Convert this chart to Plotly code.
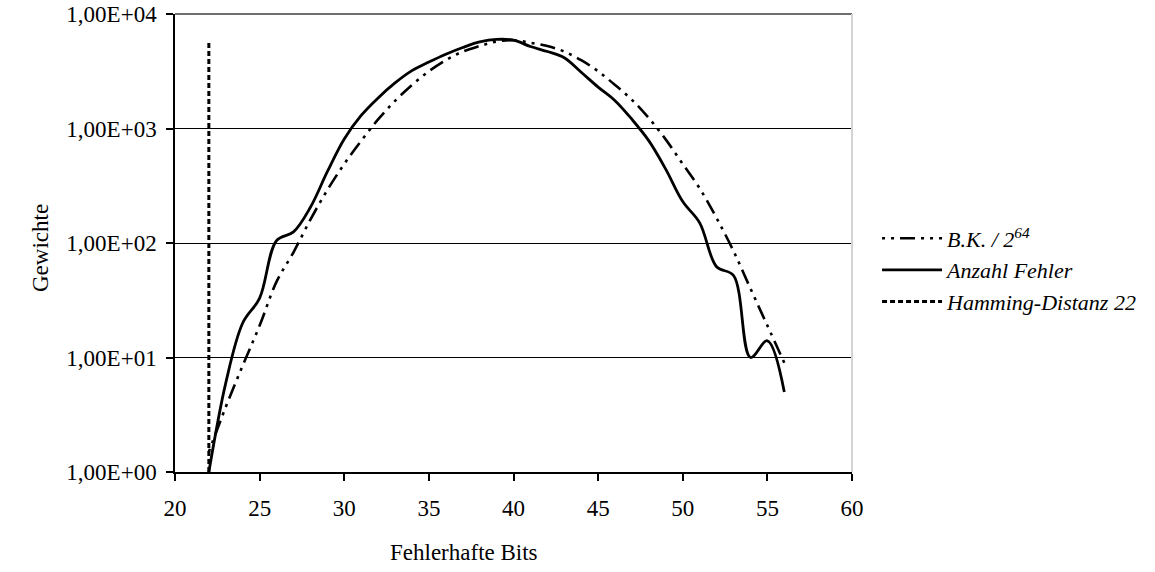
import plotly.graph_objects as go

bits = list(range(22, 57))
bk_values = [1.5, 3.7, 8.5, 19, 46, 83, 160, 290, 490, 780, 1200, 1740, 2400, 3160,
             3950, 4700, 5250, 5750, 5900, 5600, 5250, 4700, 3950, 3160, 2400, 1780,
             1230, 800, 490, 300, 165, 85, 40, 19, 9]
fehler_values = [1, 6, 20, 33, 105, 125, 205, 420, 810, 1300, 1850, 2500, 3200, 3800,
                 4450, 5100, 5700, 6000, 5900, 5200, 4700, 4150, 3100, 2300, 1750, 1200,
                 780, 440, 230, 150, 62, 52, 10, 14, 5]
hamming_x = [22, 22]
hamming_y = [1, 5900]

y_tickvals = [1, 10, 100, 1000, 10000]
y_ticktext = ["1,00E+00", "1,00E+01", "1,00E+02", "1,00E+03", "1,00E+04"]
x_tickvals = [20, 25, 30, 35, 40, 45, 50, 55, 60]

FONT = "Liberation Serif, Times New Roman, serif"
FS = 23

fig = go.Figure()
fig.add_trace(go.Scatter(
    x=bits, y=bk_values, mode="lines", name="<i>B.K. / 2<sup>64</sup></i>",
    line=dict(color="black", width=2.6, dash="3px,6px,3px,6px,15px,6px",
              shape="spline", smoothing=1)))
fig.add_trace(go.Scatter(
    x=bits, y=fehler_values, mode="lines", name="<i>Anzahl Fehler</i>",
    line=dict(color="black", width=2.8, shape="spline", smoothing=1)))
fig.add_trace(go.Scatter(
    x=hamming_x, y=hamming_y, mode="lines", name="<i>Hamming-Distanz 22</i>",
    line=dict(color="black", width=3, dash="5px,3px")))

fig.update_layout(
    width=1155, height=572,
    margin=dict(l=175, r=303, t=14, b=100, autoexpand=False),
    paper_bgcolor="white", plot_bgcolor="white",
    font=dict(family=FONT, size=FS, color="black"),
    showlegend=True,
    legend=dict(x=1.037, y=(472 - 270) / 458, xanchor="left", yanchor="middle",
                font=dict(family=FONT, size=22, color="black"),
                bgcolor="rgba(0,0,0,0)", tracegroupgap=0, itemwidth=60),
    xaxis=dict(range=[20, 60], tickvals=x_tickvals, showgrid=False, automargin=False,
               showline=True, linecolor="black", linewidth=1.5,
               ticks="outside", ticklen=7, tickcolor="black", tickwidth=1.5,
               zeroline=False, tickfont=dict(size=FS), ticklabelstandoff=8),
    yaxis=dict(type="log", range=[0, 4], tickvals=y_tickvals, ticktext=y_ticktext,
               showgrid=True, gridcolor="black", gridwidth=1, automargin=False,
               showline=True, linecolor="black", linewidth=1.5,
               ticks="outside", ticklen=7, tickcolor="black", tickwidth=1.5,
               zeroline=False, tickfont=dict(size=FS), ticklabelstandoff=5),
    shapes=[
        dict(type="line", xref="paper", yref="paper", x0=0, x1=1, y0=1, y1=1,
             line=dict(color="#6e6e6e", width=2)),
        dict(type="line", xref="paper", yref="paper", x0=1, x1=1, y0=0, y1=1,
             line=dict(color="#d4d4d4", width=2)),
    ],
    annotations=[
        dict(text="Gewichte", xref="paper", yref="paper", x=-135/677,
             y=(472 - 248) / 458,
             textangle=-90, showarrow=False, font=dict(size=FS),
             xanchor="center", yanchor="middle"),
        dict(text="Fehlerhafte Bits", xref="paper", yref="paper",
             x=(464 - 175) / 677, y=(472 - 552) / 458, showarrow=False,
             font=dict(size=FS), xanchor="center", yanchor="middle"),
    ],
)

fig.write_html("out.html")
